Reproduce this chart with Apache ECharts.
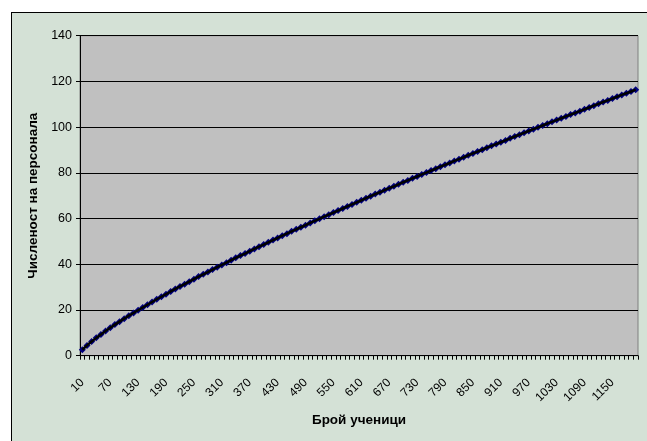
<!DOCTYPE html>
<html>
<head>
<meta charset="utf-8">
<script src="https://cdn.jsdelivr.net/npm/echarts@6/dist/echarts.min.js"></script>
<style>
  html, body { margin: 0; padding: 0; background: #ffffff; }
  #wrap { position: relative; width: 647px; height: 441px; overflow: hidden; background: #ffffff; }
  #frame { position: absolute; left: 11px; top: 12px; width: 700px; height: 500px; background: #d4e1d6; border: 1px solid #000; }
  #chart { position: absolute; left: 0; top: 0; width: 647px; height: 441px; }
</style>
</head>
<body>
<div id="wrap">
  <div id="frame"></div>
  <div id="chart"></div>
</div>
<script>
const categories = [
  10, 20, 30, 40, 50, 60, 70, 80, 90, 100,
  110, 120, 130, 140, 150, 160, 170, 180, 190, 200,
  210, 220, 230, 240, 250, 260, 270, 280, 290, 300,
  310, 320, 330, 340, 350, 360, 370, 380, 390, 400,
  410, 420, 430, 440, 450, 460, 470, 480, 490, 500,
  510, 520, 530, 540, 550, 560, 570, 580, 590, 600,
  610, 620, 630, 640, 650, 660, 670, 680, 690, 700,
  710, 720, 730, 740, 750, 760, 770, 780, 790, 800,
  810, 820, 830, 840, 850, 860, 870, 880, 890, 900,
  910, 920, 930, 940, 950, 960, 970, 980, 990, 1000,
  1010, 1020, 1030, 1040, 1050, 1060, 1070, 1080, 1090, 1100,
  1110, 1120, 1130, 1140, 1150, 1160, 1170, 1180, 1190, 1200
];
const staff = [
  2.6, 4.5, 6.2, 7.8, 9.3, 10.8, 12.2, 13.6, 14.9, 16.2,
  17.5, 18.7, 19.9, 21.1, 22.3, 23.5, 24.7, 25.8, 26.9, 28.1,
  29.2, 30.3, 31.3, 32.4, 33.5, 34.6, 35.6, 36.6, 37.7, 38.7,
  39.7, 40.7, 41.8, 42.8, 43.8, 44.7, 45.7, 46.7, 47.7, 48.6,
  49.6, 50.6, 51.5, 52.5, 53.4, 54.4, 55.3, 56.2, 57.1, 58.1,
  59.0, 59.9, 60.8, 61.7, 62.6, 63.5, 64.4, 65.3, 66.2, 67.1,
  68.0, 68.9, 69.8, 70.7, 71.5, 72.4, 73.3, 74.1, 75.0, 75.9,
  76.7, 77.6, 78.4, 79.3, 80.1, 81.0, 81.8, 82.7, 83.5, 84.3,
  85.2, 86.0, 86.8, 87.7, 88.5, 89.3, 90.1, 91.0, 91.8, 92.6,
  93.4, 94.2, 95.1, 95.9, 96.7, 97.5, 98.3, 99.1, 99.9, 100.7,
  101.5, 102.3, 103.1, 103.9, 104.7, 105.5, 106.2, 107.0, 107.8, 108.6,
  109.4, 110.2, 111.0, 111.7, 112.5, 113.3, 114.1, 114.8, 115.6, 116.4
];
const yTicks = [0, 20, 40, 60, 80, 100, 120, 140];
const xTitle = 'Брой ученици';
const yTitle = 'Численост на персонала';

const chart = echarts.init(document.getElementById('chart'), null, { renderer: 'canvas' });
const font = '"Liberation Sans", Arial, sans-serif';
chart.setOption({
  backgroundColor: 'transparent',
  animation: false,
  grid: {
    left: 80, top: 35.7, width: 558, height: 320,
    show: true, backgroundColor: '#c0c0c0', borderColor: '#808080', borderWidth: 1
  },
  xAxis: {
    type: 'category',
    data: categories.map(String),
    boundaryGap: true,
    name: xTitle,
    nameLocation: 'middle',
    nameGap: 58,
    nameTextStyle: { fontFamily: font, fontSize: 13.5, fontWeight: 'bold', color: '#000' },
    axisLine: { show: true, lineStyle: { color: '#000', width: 1 } },
    axisTick: { show: true, interval: 0, length: 4, lineStyle: { color: '#000' } },
    axisLabel: { interval: 5, rotate: 45, margin: 25, fontFamily: font, fontSize: 12, color: '#000' },
    splitLine: { show: false }
  },
  yAxis: {
    type: 'value',
    min: yTicks[0], max: yTicks[yTicks.length - 1], interval: 20,
    name: yTitle,
    nameLocation: 'middle',
    nameGap: 40,
    nameTextStyle: { fontFamily: font, fontSize: 13.5, fontWeight: 'bold', color: '#000' },
    axisLine: { show: true, lineStyle: { color: '#000', width: 1 } },
    axisTick: { show: true, length: 4, lineStyle: { color: '#000' } },
    axisLabel: { margin: 8, fontFamily: font, fontSize: 12.5, color: '#000' },
    splitLine: { show: true, lineStyle: { color: '#000', width: 1 } }
  },
  series: [
    {
      type: 'line',
      data: staff,
      symbol: 'diamond',
      symbolSize: 7,
      showAllSymbol: true,
      itemStyle: { color: '#000080' },
      lineStyle: { color: '#000080', width: 1 },
      z: 2
    },
    {
      type: 'line',
      data: staff,
      symbol: 'none',
      lineStyle: { color: '#000', width: 2.5 },
      z: 3
    }
  ]
});
</script>
</body>
</html>
